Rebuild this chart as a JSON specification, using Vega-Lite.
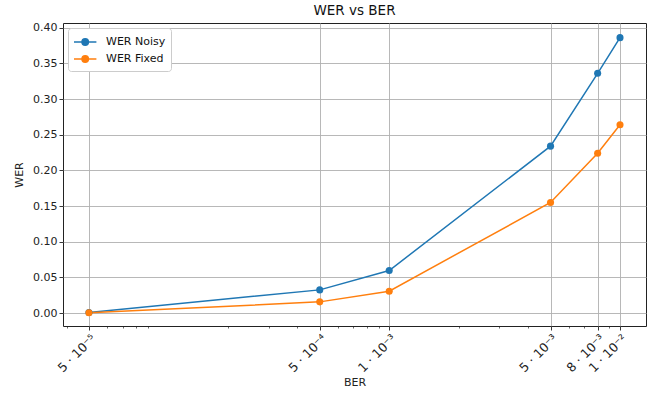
{
  "$schema": "https://vega.github.io/schema/vega-lite/v6.json",
  "width": 583,
  "height": 303,
  "autosize": "none",
  "padding": {"left": 63, "top": 23, "right": 8, "bottom": 68},
  "background": "white",
  "config": {
    "font": "DejaVu Sans",
    "view": {"stroke": "#222222", "strokeWidth": 1},
    "axis": {
      "labelFont": "DejaVu Sans",
      "titleFont": "DejaVu Sans",
      "labelFontSize": 11,
      "titleFontSize": 11,
      "titleFontWeight": "normal",
      "labelColor": "#222222",
      "titleColor": "#222222",
      "tickColor": "#222222",
      "domain": false,
      "gridColor": "#b0b0b0",
      "gridWidth": 0.9,
      "gridOpacity": 1,
      "tickSize": 4,
      "tickWidth": 0.9
    }
  },
  "title": {"text": "WER vs BER", "font": "DejaVu Sans", "fontSize": 13.5, "fontWeight": "normal", "color": "#111111", "anchor": "middle", "offset": 4},
  "data": {
    "values": [
      {"BER": 0.00005, "WER": 0.001, "series": "WER Noisy"},
      {"BER": 0.0005, "WER": 0.0326, "series": "WER Noisy"},
      {"BER": 0.001, "WER": 0.0597, "series": "WER Noisy"},
      {"BER": 0.005, "WER": 0.234, "series": "WER Noisy"},
      {"BER": 0.008, "WER": 0.336, "series": "WER Noisy"},
      {"BER": 0.01, "WER": 0.386, "series": "WER Noisy"},
      {"BER": 0.00005, "WER": 0.0005, "series": "WER Fixed"},
      {"BER": 0.0005, "WER": 0.0158, "series": "WER Fixed"},
      {"BER": 0.001, "WER": 0.0308, "series": "WER Fixed"},
      {"BER": 0.005, "WER": 0.155, "series": "WER Fixed"},
      {"BER": 0.008, "WER": 0.224, "series": "WER Fixed"},
      {"BER": 0.01, "WER": 0.264, "series": "WER Fixed"}
    ]
  },
  "encoding": {
    "x": {
      "field": "BER", "type": "quantitative",
      "scale": {"type": "log", "domain": [0.0000386, 0.01296], "nice": false},
      "axis": {
        "title": "BER",
        "orient": "bottom",
        "values": [0.00005, 0.0005, 0.001, 0.005, 0.008, 0.01],
        "labelAngle": -45,
        "labelAlign": "right",
        "labelBaseline": "top",
        "labelPadding": 2,
        "labelDx": 8.5,
        "labelDy": 8,
        "labelFontSize": 12.5,
        "labelOverlap": false,
        "labelBound": false,
        "titlePadding": 2,
        "labelExpr": "datum.value < 0.0001 ? '5 · 10⁻⁵' : datum.value < 0.0007 ? '5 · 10⁻⁴' : datum.value < 0.002 ? '1 · 10⁻³' : datum.value < 0.006 ? '5 · 10⁻³' : datum.value < 0.009 ? '8 · 10⁻³' : '1 · 10⁻²'"
      }
    },
    "y": {
      "field": "WER", "type": "quantitative",
      "scale": {"domain": [-0.018, 0.4065], "nice": false, "zero": false},
      "axis": {
        "title": "WER",
        "values": [0, 0.05, 0.1, 0.15, 0.2, 0.25, 0.3, 0.35, 0.4],
        "format": ".2f",
        "titlePadding": 8
      }
    },
    "color": {
      "field": "series", "type": "nominal",
      "sort": ["WER Noisy", "WER Fixed"],
      "scale": {"domain": ["WER Noisy", "WER Fixed"], "range": ["#1f77b4", "#ff7f0e"]},
      "legend": {
        "title": null,
        "orient": "top-left",
        "offset": 5,
        "fillColor": "white",
        "strokeColor": "#cccccc",
        "cornerRadius": 3,
        "padding": 5,
        "labelFont": "DejaVu Sans",
        "labelFontSize": 11,
        "labelColor": "#111111",
        "symbolType": "M -1 0 L 0 0 M 0.8 0 L 1.8 0 M 0 0 A 0.4 0.4 0 1 1 0.8 0 A 0.4 0.4 0 1 1 0 0 Z",
        "symbolSize": 256,
        "symbolStrokeWidth": 1.5,
        "symbolOpacity": 1,
        "rowPadding": 1,
        "labelOffset": 15
      }
    }
  },
  "resolve": {"axis": {"x": "independent"}},
  "layer": [
    {"mark": {"type": "line", "strokeWidth": 1.5}},
    {
      "mark": {"type": "point", "filled": true, "size": 50, "opacity": 1},
      "encoding": {
        "x": {
          "field": "BER", "type": "quantitative",
          "axis": {
            "title": null,
            "orient": "bottom",
            "values": [0.00004, 0.00006, 0.00007, 0.00008, 0.00009, 0.0002, 0.0003, 0.0004, 0.0006, 0.0007, 0.0008, 0.0009, 0.002, 0.003, 0.004, 0.006, 0.007, 0.009],
            "labels": false,
            "grid": false,
            "tickSize": 2,
            "tickWidth": 0.7
          }
        }
      }
    }
  ]
}
